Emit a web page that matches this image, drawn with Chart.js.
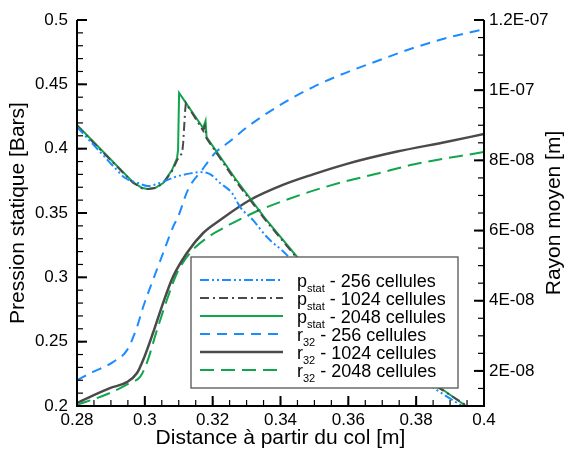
<!DOCTYPE html>
<html>
<head>
<meta charset="utf-8">
<script src="https://cdn.jsdelivr.net/npm/chart.js@4/dist/chart.umd.min.js"></script>
<style>html,body{margin:0;padding:0;background:#fff}</style>
</head>
<body>
<canvas id="c" width="565" height="454"></canvas>
<script>
// --- data ---
// pression statique [bars] vs distance [m]
const pStat256X  = [0.28, 0.2868, 0.2912, 0.2942, 0.298, 0.3009, 0.3051, 0.3089, 0.3139, 0.3163, 0.3192, 0.3222, 0.3257, 0.3281, 0.3319, 0.336, 0.3419, 0.3516, 0.3634, 0.3752, 0.3861, 0.3935];
const pStat256Y  = [0.4168, 0.3975, 0.385, 0.3772, 0.3733, 0.371, 0.374, 0.378, 0.381, 0.3818, 0.3803, 0.3733, 0.3655, 0.3546, 0.3445, 0.3313, 0.3173, 0.2862, 0.2552, 0.2319, 0.2124, 0.2];
const pStat1024X = [0.28, 0.2883, 0.2965, 0.2992, 0.3009, 0.303, 0.3054, 0.308, 0.3095, 0.311, 0.3113, 0.3119, 0.3121, 0.3172, 0.3177, 0.3182, 0.3266, 0.3354, 0.3449, 0.3546, 0.3664, 0.3782, 0.388, 0.395];
const pStat1024Y = [0.4176, 0.3955, 0.3735, 0.3692, 0.3686, 0.3694, 0.373, 0.3825, 0.391, 0.3966, 0.4043, 0.43, 0.4354, 0.414, 0.4175, 0.408, 0.3755, 0.345, 0.3148, 0.2832, 0.2522, 0.2275, 0.212, 0.2];
const pStat2048X = [0.28, 0.2883, 0.2965, 0.2992, 0.3009, 0.303, 0.3054, 0.308, 0.3095, 0.3098, 0.3101, 0.3172, 0.3179, 0.3182, 0.3266, 0.3354, 0.3449, 0.3546, 0.3664, 0.3782, 0.388, 0.3947];
const pStat2048Y = [0.4184, 0.3961, 0.374, 0.3694, 0.3686, 0.3694, 0.3733, 0.3834, 0.3927, 0.399, 0.4433, 0.416, 0.4215, 0.409, 0.377, 0.346, 0.3158, 0.2839, 0.2528, 0.228, 0.2124, 0.2];

// rayon moyen r32 [m] vs distance [m]
const r256X  = [0.28, 0.2847, 0.2906, 0.2948, 0.2977, 0.2995, 0.3024, 0.3054, 0.3083, 0.3098, 0.3127, 0.3169, 0.3207, 0.3245, 0.331, 0.3413, 0.3496, 0.3575, 0.3693, 0.3791, 0.3891, 0.4];
const r256Y  = [1.74e-8, 1.97e-8, 2.25e-8, 2.6e-8, 3.25e-8, 3.82e-8, 4.59e-8, 5.36e-8, 6.1e-8, 6.39e-8, 7.16e-8, 7.73e-8, 8.21e-8, 8.5e-8, 9.01e-8, 9.66e-8, 1.009e-7, 1.043e-7, 1.086e-7, 1.12e-7, 1.149e-7, 1.174e-7];
const r1024X = [0.28, 0.2897, 0.2947, 0.2977, 0.2995, 0.3024, 0.3054, 0.3083, 0.3124, 0.3172, 0.3222, 0.331, 0.3407, 0.3496, 0.3596, 0.3744, 0.3891, 0.4];
const r1024Y = [1.09e-8, 1.51e-8, 1.68e-8, 1.94e-8, 2.31e-8, 3.08e-8, 3.94e-8, 4.68e-8, 5.36e-8, 5.93e-8, 6.3e-8, 6.87e-8, 7.3e-8, 7.6e-8, 7.9e-8, 8.25e-8, 8.53e-8, 8.75e-8];
const r2048X = [0.28, 0.2897, 0.2956, 0.2986, 0.3006, 0.3036, 0.3065, 0.3095, 0.3133, 0.3183, 0.3222, 0.3319, 0.3457, 0.3575, 0.3693, 0.3791, 0.4];
const r2048Y = [1.03e-8, 1.37e-8, 1.66e-8, 1.83e-8, 2.23e-8, 3.17e-8, 4.02e-8, 4.79e-8, 5.36e-8, 5.79e-8, 6.02e-8, 6.5e-8, 7.01e-8, 7.36e-8, 7.64e-8, 7.88e-8, 8.24e-8];

// axes
const xTicks = [0.28, 0.3, 0.32, 0.34, 0.36, 0.38, 0.4];
const xTickLabels = ['0.28', '0.3', '0.32', '0.34', '0.36', '0.38', '0.4'];
const yTicks = [0.2, 0.25, 0.3, 0.35, 0.4, 0.45, 0.5];
const yTickLabels = ['0.2', '0.25', '0.3', '0.35', '0.4', '0.45', '0.5'];
const rTicks = [2e-8, 4e-8, 6e-8, 8e-8, 1e-7, 1.2e-7];
const rTickLabels = ['2E-08', '4E-08', '6E-08', '8E-08', '1E-07', '1.2E-07'];

// legend text: main letter, subscript, rest
const legendMain = ['p', 'p', 'p', 'r', 'r', 'r'];
const legendSub  = ['stat', 'stat', 'stat', '32', '32', '32'];
const legendRest = [' - 256 cellules', ' - 1024 cellules', ' - 2048 cellules', ' - 256 cellules', ' - 1024 cellules', ' - 2048 cellules'];

const FONT = '"Liberation Sans", Arial, sans-serif';
const BLUE = '#1b8cff', GRAY = '#4a4a4a', GREEN = '#0fa64c';

const pts = (xs, ys) => xs.map((x, i) => ({ x, y: ys[i] }));

function fixTicks(values) {
  return scale => { scale.ticks = values.map(v => ({ value: v })); };
}

// minor/major ticks pointing inward, axis lines, titles, legend
const decor = {
  id: 'decor',
  afterDatasetsDraw(chart) {
    const { ctx, chartArea: a, scales } = chart;
    const sx = scales.x, sy = scales.y, sr = scales.y1;
    ctx.save();
    ctx.strokeStyle = '#000';

    function each(min, max, step, fn) {
      const n = Math.round((max - min) / step);
      for (let i = 0; i <= n; i++) fn(min + i * step);
    }
    function tx(v, len, w) {
      const p = sx.getPixelForValue(v);
      ctx.lineWidth = w; ctx.beginPath(); ctx.moveTo(p, a.bottom); ctx.lineTo(p, a.bottom - len); ctx.stroke();
    }
    function ty(v, len, w) {
      const p = sy.getPixelForValue(v);
      ctx.lineWidth = w; ctx.beginPath(); ctx.moveTo(a.left, p); ctx.lineTo(a.left + len, p); ctx.stroke();
    }
    function tr(v, len, w) {
      const p = sr.getPixelForValue(v);
      ctx.lineWidth = w; ctx.beginPath(); ctx.moveTo(a.right, p); ctx.lineTo(a.right - len, p); ctx.stroke();
    }
    each(0.28, 0.4, 0.005, v => tx(v, 6, 1.2));
    xTicks.forEach(v => tx(v, 10, 2));
    each(0.2, 0.5, 0.01, v => ty(v, 6, 1.2));
    yTicks.forEach(v => ty(v, 10, 2));
    each(1e-8, 1.2e-7, 5e-9, v => tr(v, 6, 1.2));
    rTicks.forEach(v => tr(v, 10, 2));

    ctx.lineWidth = 2;
    ctx.beginPath();
    ctx.moveTo(a.left, a.top); ctx.lineTo(a.left, a.bottom);
    ctx.lineTo(a.right, a.bottom); ctx.lineTo(a.right, a.top);
    ctx.stroke();

    // axis titles
    ctx.fillStyle = '#000';
    ctx.font = '21px ' + FONT;
    ctx.textAlign = 'center';
    ctx.textBaseline = 'middle';
    ctx.fillText('Distance à partir du col [m]', (a.left + a.right) / 2, 438);
    ctx.save();
    ctx.translate(18, (a.top + a.bottom) / 2); ctx.rotate(-Math.PI / 2);
    ctx.fillText('Pression statique [Bars]', 0, 0);
    ctx.restore();
    ctx.save();
    ctx.translate(554, (a.top + a.bottom) / 2); ctx.rotate(-Math.PI / 2);
    ctx.fillText('Rayon moyen [m]', 0, 0);
    ctx.restore();

    // legend
    const bx = 191, by = 257, bw = 267, bh = 131;
    ctx.fillStyle = '#fff';
    ctx.fillRect(bx, by, bw, bh);
    ctx.strokeStyle = '#555';
    ctx.lineWidth = 1.3;
    ctx.strokeRect(bx, by, bw, bh);
    ctx.textAlign = 'left';
    ctx.textBaseline = 'alphabetic';
    chart.data.datasets.forEach((ds, i) => {
      const yc = 280 + i * 18;
      ctx.save();
      ctx.strokeStyle = ds.borderColor;
      ctx.lineWidth = ds.borderWidth;
      ctx.setLineDash(ds.borderDash || []);
      ctx.beginPath(); ctx.moveTo(200, yc); ctx.lineTo(283, yc); ctx.stroke();
      ctx.restore();
      ctx.fillStyle = '#000';
      let x = 297;
      const base = yc + 6.5;
      ctx.font = '18px ' + FONT;
      ctx.fillText(legendMain[i], x, base);
      x += ctx.measureText(legendMain[i]).width;
      ctx.font = '11px ' + FONT;
      ctx.fillText(legendSub[i], x, base + 5);
      x += ctx.measureText(legendSub[i]).width;
      ctx.font = '18px ' + FONT;
      ctx.fillText(legendRest[i], x, base);
    });
    ctx.restore();
  }
};

Chart.defaults.color = '#000';
Chart.defaults.font.family = FONT;

const line = (data, axis, color, dash, width, smooth) => ({
  data, yAxisID: axis, borderColor: color, borderDash: dash, borderWidth: width,
  pointRadius: 0, fill: false,
  tension: 0, cubicInterpolationMode: smooth ? 'monotone' : 'default'
});

new Chart(document.getElementById('c'), {
  type: 'line',
  data: {
    datasets: [
      line(pts(pStat256X, pStat256Y), 'y', BLUE, [9, 3, 2, 3, 2, 3], 2, true),
      line(pts(pStat1024X, pStat1024Y), 'y', GRAY, [9, 4, 2, 4], 2, false),
      line(pts(pStat2048X, pStat2048Y), 'y', GREEN, [], 2, false),
      line(pts(r256X, r256Y), 'y1', BLUE, [10, 7], 2, true),
      line(pts(r1024X, r1024Y), 'y1', GRAY, [], 2.5, true),
      line(pts(r2048X, r2048Y), 'y1', GREEN, [14, 7], 2, true)
    ]
  },
  options: {
    responsive: false,
    animation: false,
    layout: { padding: { top: 20, left: 0, right: 0, bottom: 0 } },
    plugins: { legend: { display: false }, tooltip: { enabled: false } },
    scales: {
      x: {
        type: 'linear', min: 0.28, max: 0.4,
        afterBuildTicks: fixTicks(xTicks),
        afterFit: s => { s.height = 48; },
        grid: { display: false, drawTicks: false },
        border: { display: false },
        ticks: {
          font: { size: 17 }, padding: 4, maxRotation: 0, autoSkip: false,
          callback: v => xTickLabels[xTicks.indexOf(v)]
        }
      },
      y: {
        type: 'linear', position: 'left', min: 0.2, max: 0.5,
        afterBuildTicks: fixTicks(yTicks),
        afterFit: s => { s.width = 77; },
        grid: { display: false, drawTicks: false },
        border: { display: false },
        ticks: {
          font: { size: 17 }, padding: 9, autoSkip: false,
          callback: v => yTickLabels[yTicks.indexOf(v)]
        }
      },
      y1: {
        type: 'linear', position: 'right', min: 1e-8, max: 1.2e-7,
        afterBuildTicks: fixTicks(rTicks),
        afterFit: s => { s.width = 81; },
        grid: { display: false, drawTicks: false },
        border: { display: false },
        ticks: {
          font: { size: 17 }, padding: 5, autoSkip: false,
          callback: v => rTickLabels[rTicks.indexOf(v)]
        }
      }
    }
  },
  plugins: [decor]
});
</script>
</body>
</html>
